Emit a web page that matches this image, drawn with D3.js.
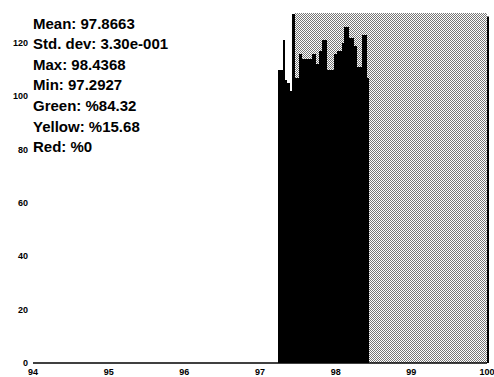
<!DOCTYPE html>
<html>
<head>
<meta charset="utf-8">
<script src="https://cdn.jsdelivr.net/npm/d3@7"></script>
<style>
  html, body { margin: 0; padding: 0; background: #fff; }
  svg { display: block; }
</style>
</head>
<body>
<script>
// ---- data ----
const binEdges = [97.24,97.30,97.33,97.36,97.40,97.42,97.46,97.52,97.56,97.62,97.69,97.74,97.78,97.82,97.89,97.98,98.02,98.08,98.11,98.18,98.24,98.28,98.35,98.41,98.44];
const binCounts = [110,121,106,105,102,131,107,116,114,114,116,112,117,121,110,116,117,120,126,122,119,111,123,107];
const xTicks = [94,95,96,97,98,99,100];
const yTicks = [0,20,40,60,80,100,120];
const bandRange = [97.46, 100];
const statLines = ["Mean: 97.8663","Std. dev: 3.30e-001","Max: 98.4368","Min: 97.2927","Green: %84.32","Yellow: %15.68","Red: %0"];

const W = 494, H = 377;
const svg = d3.select("body").append("svg").attr("width", W).attr("height", H);

const x = d3.scaleLinear().domain([94, 100]).range([33, 487]);
const y = d3.scaleLinear().domain([0, 131.3]).range([363, 13]);

// stipple pattern
const defs = svg.append("defs");
const pat = defs.append("pattern").attr("id","stip").attr("patternUnits","userSpaceOnUse")
  .attr("width",2).attr("height",2);
pat.append("rect").attr("width",2).attr("height",2).attr("fill","#fff");
pat.append("rect").attr("x",0).attr("y",0).attr("width",1).attr("height",1).attr("fill","#777");
pat.append("rect").attr("x",1).attr("y",1).attr("width",1).attr("height",1).attr("fill","#777");

// band
svg.append("rect")
  .attr("x", Math.round(x(bandRange[0])))
  .attr("y", Math.round(y(131.3)))
  .attr("width", Math.round(x(bandRange[1]) - x(bandRange[0])))
  .attr("height", Math.round(y(0) - y(131.3)))
  .attr("fill", "url(#stip)")
  .attr("shape-rendering","crispEdges");
svg.append("line")
  .attr("x1", x(100)+1).attr("x2", x(100)+1)
  .attr("y1", y(130)).attr("y2", y(0))
  .attr("stroke","#000").attr("stroke-width",2);

// bars
const bins = binCounts.map((c,i)=>({x0:binEdges[i], x1:binEdges[i+1], c}));
svg.append("g").selectAll("rect").data(bins).join("rect")
  .attr("x", d => x(d.x0))
  .attr("width", d => x(d.x1) - x(d.x0))
  .attr("y", d => y(d.c))
  .attr("height", d => y(0) - y(d.c))
  .attr("fill", "#000")
  .attr("shape-rendering","crispEdges");

// x axis line
svg.append("line").attr("x1", x(94)).attr("x2", x(100)).attr("y1", y(0)).attr("y2", y(0))
  .attr("stroke","#000").attr("stroke-width",1.5);

// tick labels
svg.append("g").selectAll("text").data(xTicks).join("text")
  .attr("x", d => x(d)).attr("y", 372).attr("text-anchor","middle")
  .attr("dominant-baseline","central")
  .attr("font-family","Liberation Sans, Arial, sans-serif").attr("font-weight","bold")
  .attr("font-size", 9).text(d => d);
svg.append("g").selectAll("text").data(yTicks).join("text")
  .attr("x", 28).attr("y", d => y(d)).attr("text-anchor","end")
  .attr("dominant-baseline","central")
  .attr("font-family","Liberation Sans, Arial, sans-serif").attr("font-weight","bold")
  .attr("font-size", 9).text(d => d);

// stats
svg.append("g").selectAll("text").data(statLines).join("text")
  .attr("x", 33).attr("y", (d,i) => 23 + i*20.6)
  .attr("dominant-baseline","central")
  .attr("font-family","Liberation Sans, Arial, sans-serif").attr("font-weight","bold")
  .attr("font-size", 15).text(d => d);
</script>
</body>
</html>
